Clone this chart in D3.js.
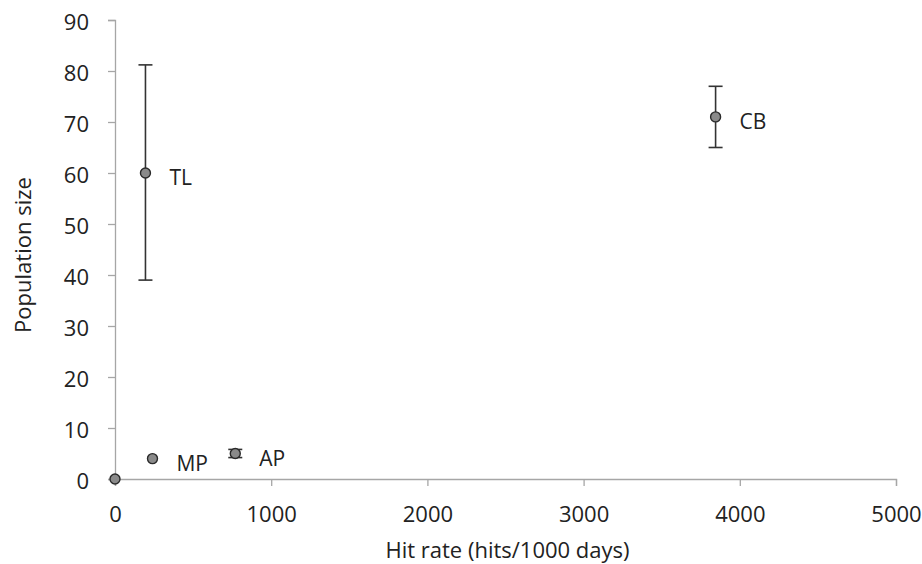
<!DOCTYPE html>
<html>
<head>
<meta charset="utf-8">
<script src="https://cdn.jsdelivr.net/npm/d3@7"></script>
<style>
  body { margin: 0; background: #fff; }
  svg text { font-family: "Open Sans", "DejaVu Sans", sans-serif; fill: #222; }
</style>
</head>
<body>
<svg id="chart" width="922" height="564"></svg>
<script>
// data
var names   = ["ZERO", "MP", "AP", "TL", "CB"];
var labels  = ["", "MP", "AP", "TL", "CB"];
var hitRate = [0, 240, 770, 195, 3845];
var popSize = [0, 4, 5, 60, 71];
var errLow  = [0, 4, 4.2, 39, 65];
var errHigh = [0, 4, 5.8, 81.2, 77];

var xTicks = [0, 1000, 2000, 3000, 4000, 5000];
var yTicks = [0, 10, 20, 30, 40, 50, 60, 70, 80, 90];

var svg = d3.select("#chart");

var x = d3.scaleLinear().domain([0, 5000]).range([115, 896]);
var y = d3.scaleLinear().domain([0, 90]).range([479, 20]);

var axisColor = "#a6a6a6";

// osa x
var gx = svg.append("g")
    .attr("transform", "translate(0," + y(0) + ")")
    .call(d3.axisBottom(x).tickValues(xTicks).tickSize(7).tickPadding(20).tickFormat(d3.format("d")));
gx.select(".domain").attr("stroke", axisColor).attr("stroke-width", 1.3);
gx.selectAll(".tick line").attr("stroke", axisColor).attr("stroke-width", 1.3);
gx.selectAll(".tick text").style("font-size", "22px").attr("fill", "#222");

// osa y
var gy = svg.append("g")
    .attr("transform", "translate(" + x(0) + ",0)")
    .call(d3.axisLeft(y).tickValues(yTicks).tickSize(7).tickPadding(19));
gy.select(".domain").attr("stroke", axisColor).attr("stroke-width", 1.3);
gy.selectAll(".tick line").attr("stroke", axisColor).attr("stroke-width", 1.3);
gy.selectAll(".tick text").style("font-size", "22px").attr("fill", "#222").attr("dy", "0.42em");

// popisky os
svg.append("text")
    .attr("x", (x(0) + x(5000)) / 2 + 2)
    .attr("y", 558)
    .attr("text-anchor", "middle")
    .style("font-size", "22px")
    .text("Hit rate (hits/1000 days)");

svg.append("text")
    .attr("transform", "translate(31,255) rotate(-90)")
    .attr("text-anchor", "middle")
    .style("font-size", "22px")
    .text("Population size");

var data = names.map(function (n, i) {
    return { name: n, label: labels[i], x: hitRate[i], y: popSize[i], lo: errLow[i], hi: errHigh[i] };
});

// chybove usecky
var err = svg.append("g").attr("stroke", "#333").attr("stroke-width", 1.6);
data.filter(function (d) { return d.hi > d.lo; }).forEach(function (d) {
    var cx = x(d.x);
    err.append("line").attr("x1", cx).attr("x2", cx).attr("y1", y(d.lo)).attr("y2", y(d.hi));
    err.append("line").attr("x1", cx - 7).attr("x2", cx + 7).attr("y1", y(d.lo)).attr("y2", y(d.lo));
    err.append("line").attr("x1", cx - 7).attr("x2", cx + 7).attr("y1", y(d.hi)).attr("y2", y(d.hi));
});

// body
svg.append("g").selectAll("circle")
    .data(data)
    .enter()
    .append("circle")
    .attr("cx", function (d) { return x(d.x); })
    .attr("cy", function (d) { return y(d.y); })
    .attr("r", 5)
    .attr("fill", "#8a8a8a")
    .attr("stroke", "#2a2a2a")
    .attr("stroke-width", 1.4);

// popisky bodu
svg.append("g").selectAll("text")
    .data(data.filter(function (d) { return d.label; }))
    .enter()
    .append("text")
    .attr("x", function (d) { return x(d.x) + 24; })
    .attr("y", function (d) { return y(d.y) + 12; })
    .style("font-size", "21px")
    .text(function (d) { return d.label; });
</script>
</body>
</html>
